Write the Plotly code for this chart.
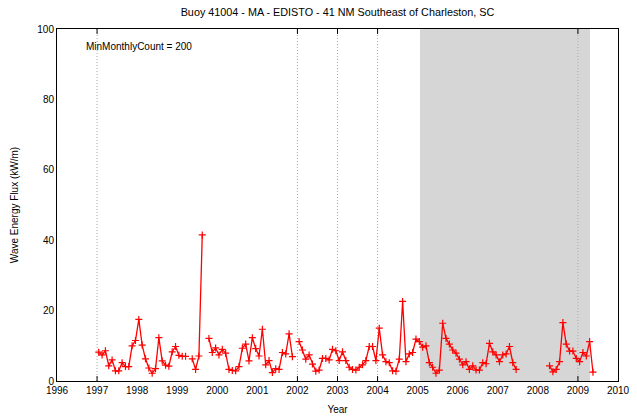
import plotly.graph_objects as go

# Monthly mean wave energy flux (kW/m), Jan..Dec; None = month without enough records
flux_1997 = [8.2, 7.4, 8.6, 4.3, 6.0, 2.9, 2.9, 5.2, 4.1, 4.1, 10.0, 11.5]
flux_1998 = [17.5, 10.2, 6.3, 3.7, 2.2, 3.5, 12.3, 5.7, 4.5, 4.2, 8.3, 9.8]
flux_1999 = [7.3, 7.0, 7.0, None, 6.3, 3.3, 7.1, 41.5, None, 12.1, 8.1, 9.4]
flux_2000 = [7.4, 9.0, 7.9, 3.3, 3.0, 2.9, 4.1, 9.3, 10.5, 5.7, 12.3, 9.2]
flux_2001 = [7.1, 14.7, 4.6, 5.8, 2.4, 3.5, 3.3, 8.1, 7.7, 13.4, 6.9, None]
flux_2002 = [11.2, 8.8, 6.2, 7.4, 4.8, 2.8, 3.1, 6.4, 6.4, 6.0, 9.0, 8.6]
flux_2003 = [5.8, 8.3, 5.8, 3.9, 3.3, 3.1, 3.9, 4.6, 5.8, 9.8, 9.8, 5.8]
flux_2004 = [15.0, 7.4, 5.5, 5.2, 2.9, 2.8, 6.2, 22.6, 5.5, 7.7, 8.1, 11.9]
flux_2005 = [11.2, 9.6, 10.0, 5.2, 3.9, 2.2, 3.1, 16.4, 12.1, 10.5, 8.8, 7.9]
flux_2006 = [6.2, 4.6, 5.5, 3.3, 4.3, 3.1, 3.1, 5.2, 4.9, 10.7, 8.3, 7.4]
flux_2007 = [5.5, 7.4, 7.7, 9.8, 5.2, 3.3, None, None, None, None, None, None]
flux_2008 = [None, None, None, 4.3, 2.6, 3.3, 5.5, 16.6, 10.5, 8.5, 8.5, 6.4]
flux_2009 = [5.5, 8.1, 7.1, 11.2, 2.5]

yearly = [
    (1997, flux_1997), (1998, flux_1998), (1999, flux_1999), (2000, flux_2000),
    (2001, flux_2001), (2002, flux_2002), (2003, flux_2003), (2004, flux_2004),
    (2005, flux_2005), (2006, flux_2006), (2007, flux_2007), (2008, flux_2008),
    (2009, flux_2009),
]

# Station event years (dotted markers) and the highlighted period
event_years = [1997, 2002, 2003, 2004, 2009]
period_start = 2005.06
period_end = 2009.30

year_ticks = list(range(1996, 2011))
flux_ticks = [0, 20, 40, 60, 80, 100]

# Decimal-year time axis at mid-month
t, flux = [], []
for yr, vals in yearly:
    for m, v in enumerate(vals, start=1):
        t.append(yr + (m - 0.5) / 12)
        flux.append(v)

FONT = "Liberation Sans, Arial, sans-serif"

fig = go.Figure()
fig.add_trace(go.Scatter(
    x=t, y=flux, mode="lines+markers", connectgaps=False,
    line=dict(color="#ff0000", width=1.3),
    marker=dict(symbol="cross-thin", size=5, line=dict(color="#ff0000", width=1.2)),
    showlegend=False, hoverinfo="x+y",
))

shapes = [dict(type="rect", xref="x", yref="y", x0=period_start, x1=period_end,
               y0=0, y1=100, fillcolor="#d6d6d6", line=dict(width=0), layer="below")]
for ev in event_years:
    shapes.append(dict(type="line", xref="x", yref="y", x0=ev, x1=ev, y0=0, y1=100,
                       line=dict(color="#a8a8a8", width=1, dash="1px,2px"), layer="below"))
    shapes.append(dict(type="line", xref="x", yref="y domain", x0=ev, x1=ev, y0=0, y1=0.014,
                       line=dict(color="black", width=1)))
    shapes.append(dict(type="line", xref="x", yref="y domain", x0=ev, x1=ev, y0=0.986, y1=1,
                       line=dict(color="black", width=1)))

fig.update_layout(
    width=637, height=418,
    margin=dict(l=57, r=19, t=29, b=37, autoexpand=False),
    paper_bgcolor="white", plot_bgcolor="white",
    font=dict(family=FONT, size=10, color="black"),
    title=dict(text="Buoy 41004 - MA - EDISTO - 41 NM Southeast of Charleston, SC",
               x=0.5, xanchor="center", xref="paper",
               y=1 - 12 / 418, yref="container", yanchor="middle",
               font=dict(family=FONT, size=10.8, color="black")),
    xaxis=dict(range=[1996, 2010], tickvals=year_ticks, ticks="", showgrid=False,
               zeroline=False, showline=True, mirror=True, linecolor="black", linewidth=1,
               title=dict(text="Year", standoff=10, font=dict(size=10))),
    yaxis=dict(range=[0, 100], tickvals=flux_ticks, ticks="", showgrid=False,
               zeroline=False, showline=True, mirror=True, linecolor="black", linewidth=1,
               title=dict(text="Wave Energy Flux (kW/m)", standoff=16, font=dict(size=10))),
    shapes=shapes,
    annotations=[dict(text="MinMonthlyCount = 200", x=1996.67, y=95, xref="x", yref="y",
                      xanchor="left", yanchor="middle", showarrow=False,
                      font=dict(family=FONT, size=10, color="black"))],
)

fig.write_html("out.html")
